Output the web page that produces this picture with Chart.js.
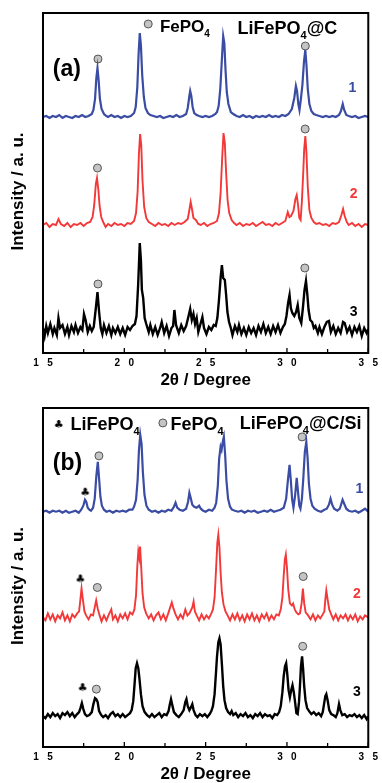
<!DOCTYPE html>
<html>
<head>
<meta charset="utf-8">
<script src="https://cdn.jsdelivr.net/npm/chart.js@4/dist/chart.umd.min.js"></script>
<style>
  html, body { margin: 0; padding: 0; background: #fff; width: 382px; height: 783px; overflow: hidden; }
  .panel { position: absolute; left: 0; width: 382px; }
  #pa { top: 0; height: 389px; }
  #pb { top: 389px; height: 394px; }
</style>
</head>
<body>
<div class="panel" id="pa"><canvas id="ca"></canvas></div>
<div class="panel" id="pb"><canvas id="cb"></canvas></div>
<script>
// XRD patterns: [2theta, intensity above the pattern's own baseline]
const aBlue = [[15.0,0],[15.2,1],[15.4,-1],[15.6,1],[15.8,0],[16.0,2],[16.2,-1],[16.4,1],[16.6,0],[16.8,-1],[17.0,1],[17.2,0],[17.4,2],[17.6,0],[17.8,1],[18.0,3],[18.1,7],[18.2,18],[18.28,39],[18.35,49],[18.42,37],[18.5,18],[18.6,8],[18.75,3],[18.9,1],[19.0,0],[19.2,2],[19.4,0],[19.6,1],[19.8,-1],[20.0,1],[20.2,0],[20.4,1],[20.6,4],[20.7,10],[20.8,30],[20.88,64],[20.95,84],[21.02,72],[21.1,42],[21.2,20],[21.3,9],[21.45,4],[21.6,2],[21.8,1],[22.0,0],[22.2,1],[22.4,-1],[22.6,0],[22.8,1],[23.0,0],[23.2,2],[23.4,0],[23.6,1],[23.8,3],[23.9,9],[24.0,21],[24.05,26],[24.12,21],[24.2,10],[24.3,4],[24.45,2],[24.6,1],[24.8,0],[25.0,1],[25.2,0],[25.4,1],[25.6,3],[25.7,5],[25.8,11],[25.9,28],[26.0,58],[26.08,81],[26.15,74],[26.22,48],[26.3,25],[26.4,13],[26.55,5],[26.7,3],[26.9,1],[27.1,0],[27.3,2],[27.5,0],[27.7,1],[27.9,-1],[28.1,1],[28.3,0],[28.5,1],[28.7,0],[28.9,2],[29.1,0],[29.3,1],[29.5,0],[29.7,2],[29.9,1],[30.1,3],[30.3,8],[30.45,19],[30.55,31],[30.62,26],[30.7,13],[30.77,7],[30.85,17],[30.95,32],[31.05,56],[31.13,67],[31.2,52],[31.28,28],[31.38,13],[31.5,6],[31.65,3],[31.8,2],[32.0,1],[32.2,0],[32.4,1],[32.6,0],[32.8,1],[33.0,0],[33.2,2],[33.32,6],[33.43,13],[33.52,7],[33.65,2],[33.8,1],[34.0,0],[34.2,1],[34.4,-1],[34.6,0],[34.8,1],[35.0,0]];
const aRed = [[15.0,0],[15.2,2],[15.4,-2],[15.6,1],[15.8,0],[15.95,6],[16.1,1],[16.3,-1],[16.5,2],[16.7,-2],[16.9,1],[17.1,0],[17.3,2],[17.5,-1],[17.7,2],[17.9,3],[18.05,8],[18.15,20],[18.25,41],[18.32,47],[18.4,36],[18.48,19],[18.58,8],[18.7,3],[18.85,-2],[19.0,1],[19.2,-1],[19.4,2],[19.6,0],[19.8,1],[20.0,-1],[20.2,2],[20.4,1],[20.6,4],[20.72,12],[20.82,34],[20.9,72],[20.97,91],[21.04,80],[21.12,44],[21.22,18],[21.35,7],[21.5,3],[21.7,1],[21.9,-1],[22.1,2],[22.3,0],[22.5,1],[22.7,-1],[22.9,2],[23.1,0],[23.3,2],[23.5,1],[23.7,3],[23.9,6],[24.0,15],[24.08,23],[24.15,17],[24.25,7],[24.4,5],[24.55,1],[24.7,0],[24.9,2],[25.1,-1],[25.3,1],[25.5,2],[25.7,4],[25.82,12],[25.92,32],[26.02,68],[26.1,92],[26.18,82],[26.26,52],[26.35,25],[26.45,12],[26.6,5],[26.75,2],[26.9,0],[27.1,2],[27.3,-1],[27.5,1],[27.7,0],[27.9,2],[28.1,-1],[28.3,1],[28.5,3],[28.7,0],[28.9,1],[29.1,-1],[29.3,2],[29.5,0],[29.7,2],[29.9,4],[30.05,13],[30.15,8],[30.25,9],[30.4,14],[30.52,26],[30.6,30],[30.68,20],[30.76,7],[30.84,5],[30.92,24],[31.0,52],[31.06,76],[31.13,89],[31.2,72],[31.28,38],[31.38,15],[31.5,7],[31.65,3],[31.8,1],[32.0,2],[32.2,0],[32.4,1],[32.6,-1],[32.8,2],[33.0,1],[33.2,3],[33.35,10],[33.45,16],[33.55,9],[33.68,3],[33.8,0],[34.0,2],[34.2,-1],[34.4,1],[34.6,-2],[34.8,1],[35.0,0]];
const aBlack = [[15.0,2],[15.1,-6],[15.2,4],[15.3,-3],[15.45,6],[15.6,-4],[15.7,2],[15.85,-5],[15.95,12],[16.05,2],[16.2,5],[16.35,-4],[16.5,3],[16.6,-5],[16.75,4],[16.9,-2],[17.0,5],[17.15,-3],[17.3,3],[17.42,0],[17.52,16],[17.62,10],[17.75,-2],[17.88,4],[18.0,-1],[18.12,3],[18.25,22],[18.35,38],[18.45,18],[18.55,2],[18.65,-4],[18.75,5],[18.9,-3],[19.05,4],[19.2,-5],[19.3,2],[19.45,-3],[19.6,3],[19.75,-4],[19.9,2],[20.05,-5],[20.2,3],[20.35,0],[20.5,4],[20.65,6],[20.75,14],[20.85,45],[20.95,87],[21.02,70],[21.08,40],[21.16,32],[21.25,12],[21.35,6],[21.5,-2],[21.6,5],[21.75,-4],[21.9,3],[22.05,-5],[22.2,2],[22.3,8],[22.45,-3],[22.6,4],[22.75,-6],[22.9,2],[23.0,4],[23.08,20],[23.18,5],[23.35,-3],[23.5,5],[23.65,-1],[23.8,4],[23.95,14],[24.05,21],[24.15,10],[24.25,16],[24.35,6],[24.45,12],[24.55,-2],[24.65,4],[24.8,13],[24.9,2],[25.05,-4],[25.2,3],[25.35,0],[25.5,5],[25.62,4],[25.72,12],[25.82,30],[25.92,52],[26.0,65],[26.08,52],[26.18,50],[26.26,35],[26.34,18],[26.44,8],[26.55,2],[26.65,-5],[26.8,4],[26.95,-2],[27.05,5],[27.2,-4],[27.35,2],[27.5,-5],[27.65,3],[27.8,-3],[27.95,2],[28.1,-5],[28.25,4],[28.4,-2],[28.55,6],[28.7,-3],[28.85,3],[29.0,-4],[29.15,4],[29.3,-2],[29.45,5],[29.6,-3],[29.75,3],[29.87,6],[29.97,14],[30.07,27],[30.16,35],[30.24,22],[30.33,17],[30.45,14],[30.56,18],[30.66,25],[30.76,12],[30.88,7],[30.98,22],[31.08,40],[31.17,49],[31.25,36],[31.33,20],[31.43,10],[31.55,8],[31.65,2],[31.75,4],[31.9,-3],[32.0,3],[32.15,-4],[32.3,3],[32.45,8],[32.58,9],[32.7,-2],[32.85,4],[33.0,-4],[33.15,2],[33.3,-3],[33.45,8],[33.55,7],[33.7,-2],[33.85,3],[34.0,-5],[34.15,3],[34.3,-2],[34.45,4],[34.6,-6],[34.75,2],[34.9,-3],[35.0,1]];

const bBlue = [[15.0,0],[15.2,1],[15.4,-1],[15.6,1],[15.8,0],[16.0,1],[16.2,-1],[16.4,1],[16.6,-1],[16.8,0],[17.0,1],[17.2,-1],[17.35,2],[17.48,6],[17.58,12],[17.66,10],[17.75,4],[17.85,2],[17.95,1],[18.08,4],[18.18,13],[18.28,36],[18.37,50],[18.45,33],[18.53,15],[18.62,6],[18.75,2],[18.9,0],[19.1,1],[19.3,-1],[19.5,1],[19.7,0],[19.9,1],[20.1,0],[20.3,2],[20.5,2],[20.6,5],[20.72,12],[20.82,32],[20.9,62],[20.98,77],[21.06,68],[21.14,40],[21.24,17],[21.36,6],[21.5,2],[21.7,0],[21.9,1],[22.1,-1],[22.3,1],[22.5,0],[22.7,2],[22.9,1],[23.05,5],[23.15,9],[23.25,4],[23.4,2],[23.6,1],[23.8,3],[23.92,10],[24.0,19],[24.08,14],[24.18,7],[24.3,5],[24.45,4],[24.6,6],[24.7,3],[24.85,1],[25.0,0],[25.2,2],[25.4,1],[25.55,4],[25.65,9],[25.75,26],[25.83,53],[25.92,65],[25.98,62],[26.05,70],[26.12,75],[26.2,57],[26.28,31],[26.38,13],[26.5,5],[26.62,2],[26.8,1],[27.0,0],[27.2,1],[27.4,-1],[27.6,1],[27.8,0],[28.0,1],[28.2,-1],[28.4,0],[28.6,1],[28.8,0],[29.0,2],[29.2,0],[29.4,1],[29.6,2],[29.8,4],[29.95,13],[30.06,32],[30.16,47],[30.24,31],[30.32,12],[30.4,4],[30.5,16],[30.6,34],[30.68,20],[30.76,6],[30.83,3],[30.92,13],[31.0,32],[31.1,60],[31.19,70],[31.27,54],[31.35,28],[31.45,13],[31.56,6],[31.7,3],[31.9,1],[32.1,0],[32.3,2],[32.45,3],[32.58,7],[32.68,13],[32.78,7],[32.9,3],[33.1,1],[33.25,3],[33.42,12],[33.52,8],[33.65,3],[33.8,1],[34.0,0],[34.2,1],[34.4,-1],[34.6,1],[34.8,3],[35.0,0]];
const bRed = [[15.0,0],[15.15,-3],[15.3,4],[15.45,-2],[15.6,3],[15.75,-4],[15.9,2],[16.05,-1],[16.2,5],[16.35,-3],[16.5,2],[16.65,-4],[16.8,3],[16.95,0],[17.1,4],[17.22,6],[17.3,18],[17.37,29],[17.45,18],[17.55,6],[17.65,2],[17.8,-2],[17.95,3],[18.08,2],[18.18,10],[18.27,17],[18.36,9],[18.48,2],[18.6,-4],[18.75,2],[18.9,-3],[19.05,3],[19.2,8],[19.3,-2],[19.45,2],[19.6,-4],[19.75,3],[19.9,-1],[20.05,4],[20.2,-2],[20.35,5],[20.5,3],[20.62,8],[20.72,22],[20.8,52],[20.86,66],[20.92,60],[20.97,71],[21.04,50],[21.12,24],[21.22,10],[21.34,4],[21.5,-1],[21.65,3],[21.8,-3],[21.95,2],[22.1,5],[22.25,-2],[22.4,3],[22.55,-3],[22.7,4],[22.82,10],[22.92,15],[23.02,9],[23.15,3],[23.3,-2],[23.45,3],[23.6,-1],[23.75,8],[23.88,2],[24.0,4],[24.18,10],[24.26,16],[24.34,6],[24.45,2],[24.6,-3],[24.75,3],[24.9,-2],[25.05,2],[25.2,-1],[25.35,4],[25.45,8],[25.55,20],[25.64,48],[25.72,75],[25.78,83],[25.85,70],[25.92,45],[26.0,25],[26.1,13],[26.22,6],[26.35,2],[26.5,-3],[26.65,3],[26.8,-2],[26.95,4],[27.1,-3],[27.25,2],[27.4,-4],[27.55,3],[27.7,-2],[27.85,4],[28.0,-3],[28.15,2],[28.3,-4],[28.45,3],[28.6,-1],[28.75,4],[28.9,-3],[29.05,2],[29.2,-2],[29.35,3],[29.5,2],[29.62,8],[29.72,20],[29.8,42],[29.87,58],[29.93,63],[30.0,50],[30.08,28],[30.18,14],[30.3,12],[30.38,14],[30.48,8],[30.58,5],[30.7,3],[30.8,4],[30.9,14],[30.98,29],[31.06,14],[31.15,5],[31.3,2],[31.45,-2],[31.6,3],[31.75,-3],[31.9,2],[32.05,-1],[32.2,3],[32.3,6],[32.36,18],[32.42,27],[32.5,18],[32.6,8],[32.72,3],[32.85,-2],[33.0,3],[33.15,-3],[33.3,2],[33.45,-1],[33.6,3],[33.75,-3],[33.9,2],[34.05,-2],[34.2,3],[34.35,-4],[34.5,1],[34.65,-2],[34.8,2],[35.0,0]];
const bBlack = [[15.0,0],[15.15,-2],[15.3,2],[15.45,-1],[15.6,3],[15.75,0],[15.9,2],[16.05,-2],[16.2,3],[16.35,1],[16.5,4],[16.65,0],[16.8,3],[16.95,-1],[17.1,2],[17.22,4],[17.3,8],[17.39,13],[17.48,7],[17.58,2],[17.7,0],[17.85,1],[18.0,4],[18.1,12],[18.2,18],[18.28,17],[18.36,14],[18.45,5],[18.58,1],[18.7,-1],[18.85,1],[19.0,-2],[19.15,2],[19.3,4],[19.45,0],[19.6,2],[19.75,-1],[19.9,2],[20.05,-1],[20.2,1],[20.35,3],[20.45,6],[20.55,15],[20.63,32],[20.7,48],[20.78,53],[20.86,48],[20.94,36],[21.02,22],[21.12,10],[21.25,4],[21.4,1],[21.55,-1],[21.7,2],[21.85,-1],[22.0,1],[22.15,3],[22.3,-1],[22.45,2],[22.6,1],[22.72,5],[22.8,12],[22.87,17],[22.95,11],[23.05,4],[23.2,1],[23.35,-1],[23.5,2],[23.65,6],[23.75,14],[23.82,17],[23.9,10],[24.0,6],[24.1,9],[24.18,12],[24.26,6],[24.38,1],[24.5,-1],[24.65,2],[24.8,0],[24.95,2],[25.1,-1],[25.25,2],[25.35,5],[25.45,10],[25.55,22],[25.63,42],[25.7,60],[25.78,74],[25.85,78],[25.92,72],[26.0,52],[26.08,30],[26.16,16],[26.26,8],[26.38,4],[26.5,2],[26.6,5],[26.7,1],[26.85,3],[27.0,-1],[27.15,2],[27.3,0],[27.45,3],[27.6,-1],[27.75,1],[27.9,-2],[28.05,2],[28.2,0],[28.35,3],[28.5,-1],[28.65,2],[28.8,0],[28.95,1],[29.1,-2],[29.25,2],[29.4,1],[29.52,4],[29.62,10],[29.72,24],[29.8,40],[29.88,50],[29.95,53],[30.02,42],[30.1,26],[30.18,19],[30.26,26],[30.34,31],[30.42,24],[30.5,14],[30.58,3],[30.66,2],[30.74,14],[30.8,30],[30.86,50],[30.93,60],[30.99,48],[31.06,30],[31.14,16],[31.24,8],[31.36,5],[31.5,2],[31.65,4],[31.8,1],[31.95,3],[32.1,0],[32.2,4],[32.28,12],[32.36,20],[32.42,22],[32.5,16],[32.6,6],[32.72,2],[32.85,1],[33.0,-1],[33.1,3],[33.2,12],[33.28,6],[33.4,1],[33.55,2],[33.7,-1],[33.85,1],[34.0,0],[34.15,2],[34.3,-1],[34.45,1],[34.6,-2],[34.75,1],[34.9,-3],[35.0,0]];

// vertical stacking of the three patterns in each panel
const offsetsA = [236, 128, 23];
const offsetsB = [236, 130, 31];

// FePO4 (grey circle) and LiFePO4 (club) peak markers: [2theta, height]
const circlesA = [[18.38, 294], [31.13, 307], [18.35, 185], [31.12, 224], [18.38, 69], [31.1, 85], [21.47, 329]];
const circlesB = [[18.44, 292], [30.93, 311], [18.34, 160], [31.0, 171], [18.28, 58], [30.97, 101], [22.37, 325]];
const clubsB = [[17.6, 255], [17.3, 168], [17.44, 59], [15.97, 323]];

const xTicks = { min: 15, max: 35, step: 2.5 };

const FONT = '"Liberation Sans", Arial, Helvetica, sans-serif';
const BLUE = '#3a4ca3';
const RED = '#f23838';
const BLACK = '#000000';

// text labels: parts are [text, isSubscript]
const labelsA = [
  { parts: [['(a)']], x: 15.6, y: 277, size: 23 },
  { parts: [['FePO'], ['4', 1]], x: 22.19, y: 321, size: 17 },
  { parts: [['LiFePO'], ['4', 1], ['@C']], x: 26.96, y: 319, size: 18 },
  { parts: [['1']], x: 34.03, y: 261, size: 14, color: BLUE, align: 'center' },
  { parts: [['2']], x: 34.1, y: 155, size: 14, color: RED, align: 'center' },
  { parts: [['3']], x: 34.1, y: 37, size: 14, color: BLACK, align: 'center' }
];
const labelsB = [
  { parts: [['(b)']], x: 15.6, y: 278, size: 23 },
  { parts: [['LiFePO'], ['4', 1]], x: 16.69, y: 318, size: 18 },
  { parts: [['FePO'], ['4', 1]], x: 22.84, y: 318, size: 18 },
  { parts: [['LiFePO'], ['4', 1], ['@C/Si']], x: 27.1, y: 319, size: 18 },
  { parts: [['1']], x: 34.46, y: 255, size: 14, color: BLUE, align: 'center' },
  { parts: [['2']], x: 34.3, y: 149, size: 14, color: RED, align: 'center' },
  { parts: [['3']], x: 34.3, y: 51, size: 14, color: BLACK, align: 'center' }
];

function clubImage() {
  const c = document.createElement('canvas');
  c.width = 12; c.height = 12;
  const g = c.getContext('2d');
  g.fillStyle = '#000';
  g.font = '11px "DejaVu Sans"';
  g.textAlign = 'center';
  g.textBaseline = 'middle';
  g.fillText('\u2663', 6, 6.5);
  return c;
}

function drawParts(ctx, x, y, parts, size, align) {
  let total = 0;
  parts.forEach(p => {
    ctx.font = 'bold ' + (p[1] ? Math.round(size * 0.6) : size) + 'px ' + FONT;
    total += ctx.measureText(p[0]).width;
  });
  let cx = align === 'center' ? x - total / 2 : x;
  parts.forEach(p => {
    ctx.font = 'bold ' + (p[1] ? Math.round(size * 0.6) : size) + 'px ' + FONT;
    ctx.fillText(p[0], cx, y + (p[1] ? size * 0.28 : 0));
    cx += ctx.measureText(p[0]).width;
  });
}

const framePlugin = {
  id: 'frame',
  afterDatasetsDraw(chart, args, opts) {
    const ctx = chart.ctx, a = chart.chartArea, xs = chart.scales.x, ys = chart.scales.y;
    ctx.save();
    ctx.strokeStyle = '#000';
    ctx.lineWidth = 2;
    ctx.strokeRect(a.left, a.top, a.right - a.left, a.bottom - a.top);
    ctx.lineWidth = 1.3;
    xs.ticks.forEach(t => {
      const px = xs.getPixelForValue(t.value);
      const len = t.value % 5 === 0 ? 5 : 4;
      ctx.beginPath();
      ctx.moveTo(px, a.bottom);
      ctx.lineTo(px, a.bottom - len);
      ctx.stroke();
    });
    ctx.textBaseline = 'alphabetic';
    ctx.textAlign = 'left';
    opts.labels.forEach(l => {
      ctx.fillStyle = l.color || '#000';
      drawParts(ctx, xs.getPixelForValue(l.x), ys.getPixelForValue(l.y), l.parts, l.size, l.align);
    });
    ctx.restore();
  }
};

function series(points, offset) {
  return points.map(p => ({ x: p[0], y: p[1] + offset }));
}
function markers(points) {
  return points.map(p => ({ x: p[0], y: p[1] }));
}

function makeChart(id, sets, offsets, circles, clubs, labels, topPad) {
  const colors = [BLUE, RED, BLACK];
  const widths = [2.2, 1.9, 2.4];
  const datasets = sets.map((s, i) => ({
    data: series(s, offsets[i]),
    borderColor: colors[i],
    borderWidth: widths[i],
    pointRadius: 0,
    tension: 0,
    showLine: true,
    fill: false
  }));
  datasets.push({
    data: markers(circles),
    showLine: false,
    pointStyle: 'circle',
    pointRadius: 4,
    backgroundColor: '#c4c4c4',
    borderColor: '#555',
    borderWidth: 1
  });
  if (clubs) {
    datasets.push({
      data: markers(clubs),
      showLine: false,
      pointStyle: clubImage(),
      pointRadius: 6
    });
  }
  return new Chart(document.getElementById(id), {
    type: 'scatter',
    data: { datasets },
    plugins: [framePlugin],
    options: {
      responsive: true,
      maintainAspectRatio: false,
      animation: false,
      events: [],
      layout: { padding: { top: topPad, right: 8, left: 0, bottom: 0 } },
      plugins: {
        legend: { display: false },
        tooltip: { enabled: false },
        frame: { labels }
      },
      scales: {
        x: {
          type: 'linear',
          min: xTicks.min,
          max: xTicks.max,
          afterBuildTicks(scale) {
            const t = [];
            for (let v = xTicks.min; v <= xTicks.max; v += xTicks.step) t.push({ value: v });
            scale.ticks = t;
          },
          afterFit(scale) { scale.height = 36; },
          grid: { display: false, drawTicks: false },
          border: { display: false },
          ticks: {
            autoSkip: false,
            maxRotation: 0,
            padding: 4,
            color: '#000',
            font: { family: FONT, size: 10, weight: 'bold' },
            callback: v => (v % 5 === 0 ? String(v).split('').join('   ') : '')
          },
          title: {
            display: true,
            text: '2\u03b8 / Degree',
            color: '#000',
            font: { family: FONT, size: 17, weight: 'bold', lineHeight: 1 },
            padding: { top: 0, bottom: 0 }
          }
        },
        y: {
          min: 0,
          max: 340,
          afterFit(scale) { scale.width = 43; },
          grid: { display: false, drawTicks: false },
          border: { display: false },
          ticks: { display: false },
          title: {
            display: true,
            text: 'Intensity / a. u.\u2002\u2002',
            color: '#000',
            font: { family: FONT, size: 17, weight: 'bold', lineHeight: 1.2 },
            padding: { top: 8, bottom: 0 }
          }
        }
      }
    }
  });
}

makeChart('ca', [aBlue, aRed, aBlack], offsetsA, circlesA, null, labelsA, 13);
makeChart('cb', [bBlue, bRed, bBlack], offsetsB, circlesB, clubsB, labelsB, 19);
</script>
</body>
</html>
